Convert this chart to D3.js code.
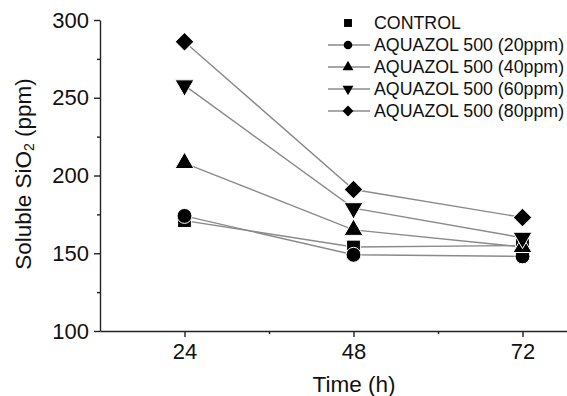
<!DOCTYPE html>
<html>
<head>
<meta charset="utf-8">
<script src="https://cdn.jsdelivr.net/npm/d3@7"></script>
<style>
  body { margin: 0; background: #fff; }
  text { font-family: "Liberation Sans", Arial, sans-serif; fill: #111; }
</style>
</head>
<body>
<svg id="chart" width="567" height="396"></svg>
<script>
// data
var times = [24, 48, 72];
var control = [171, 154, 155];
var aq20 = [174, 149, 148];
var aq40 = [208, 165, 154];
var aq60 = [258, 179, 160];
var aq80 = [286, 191, 173];
var seriesNames = ["CONTROL", "AQUAZOL 500 (20ppm)", "AQUAZOL 500 (40ppm)", "AQUAZOL 500 (60ppm)", "AQUAZOL 500 (80ppm)"];
var xTicks = [24, 48, 72];
var yTicks = [100, 150, 200, 250, 300];

var svg = d3.select("#chart");

var x = d3.scaleLinear().domain([12, 84]).range([100, 607]);
var y = d3.scaleLinear().domain([100, 300]).range([331, 20]);

// marker shapes, one per series
var shapes = [
    { type: d3.symbolSquare,   size: 190, rot: 0 },
    { type: d3.symbolCircle,   size: 175, rot: 0 },
    { type: d3.symbolTriangle, size: 155, rot: 0 },
    { type: d3.symbolTriangle, size: 155, rot: 180 },
    { type: d3.symbolSquare,   size: 180, rot: 45 }
];
var allSeries = [control, aq20, aq40, aq60, aq80];

// axes
var xAxis = svg.append("g")
    .attr("transform", "translate(0," + y(100) + ")")
    .call(d3.axisBottom(x).tickValues(xTicks).tickSize(6).tickSizeOuter(0).tickPadding(6));
var xMinor = svg.append("g")
    .attr("transform", "translate(0," + y(100) + ")")
    .call(d3.axisBottom(x).tickValues([36, 60]).tickSize(3).tickFormat(""));
xMinor.select(".domain").remove();

var yAxis = svg.append("g")
    .attr("transform", "translate(" + x(12) + ",0)")
    .call(d3.axisLeft(y).tickValues(yTicks).tickSize(6).tickSizeOuter(0).tickPadding(5));
var yMinor = svg.append("g")
    .attr("transform", "translate(" + x(12) + ",0)")
    .call(d3.axisLeft(y).tickValues([125, 175, 225, 275]).tickSize(3).tickFormat(""));
yMinor.select(".domain").remove();

svg.selectAll(".domain, .tick line").attr("stroke", "#222").attr("stroke-width", 1.4);
xAxis.selectAll("text").attr("font-size", "22px").attr("fill", "#111");
yAxis.selectAll("text").attr("font-size", "22px").attr("fill", "#111");

// axis titles
svg.append("text")
    .attr("x", 354).attr("y", 392)
    .attr("text-anchor", "middle")
    .attr("font-size", "22.5px")
    .text("Time (h)");

var yt = svg.append("text")
    .attr("transform", "translate(31,174) rotate(-90)")
    .attr("text-anchor", "middle")
    .attr("font-size", "22.5px");
yt.append("tspan").text("Soluble SiO");
yt.append("tspan").attr("font-size", "14px").attr("dy", 3).text("2");
yt.append("tspan").attr("dy", -3).text(" (ppm)");

// lines
var line = d3.line()
    .x(function(d, i) { return x(times[i]); })
    .y(function(d) { return y(d); });

allSeries.forEach(function(s) {
    svg.append("path")
        .datum(s)
        .attr("fill", "none")
        .attr("stroke", "#8a8a8a")
        .attr("stroke-width", 1.4)
        .attr("d", line);
});

// markers
allSeries.forEach(function(s, k) {
    var sh = shapes[k];
    svg.append("g").selectAll("path")
        .data(s)
        .enter().append("path")
        .attr("d", d3.symbol().type(sh.type).size(sh.size))
        .attr("transform", function(d, i) {
            return "translate(" + x(times[i]) + "," + y(d) + ") rotate(" + sh.rot + ")";
        })
        .attr("fill", "#000")
        .attr("stroke", "#fff")
        .attr("stroke-width", 1);
});

// legend
var lg = svg.append("g");
seriesNames.forEach(function(name, k) {
    var ly = 23 + k * 22;
    var sh = shapes[k];
    if (k > 0) {
        lg.append("line")
            .attr("x1", 328).attr("x2", 370)
            .attr("y1", ly).attr("y2", ly)
            .attr("stroke", "#8a8a8a").attr("stroke-width", 1.4);
    }
    lg.append("path")
        .attr("d", d3.symbol().type(sh.type).size(sh.size * 0.33))
        .attr("transform", "translate(348," + ly + ") rotate(" + sh.rot + ")")
        .attr("fill", "#000");
    lg.append("text")
        .attr("x", 374).attr("y", ly + 6)
        .attr("font-size", "17.8px")
        .text(name);
});
</script>
</body>
</html>
